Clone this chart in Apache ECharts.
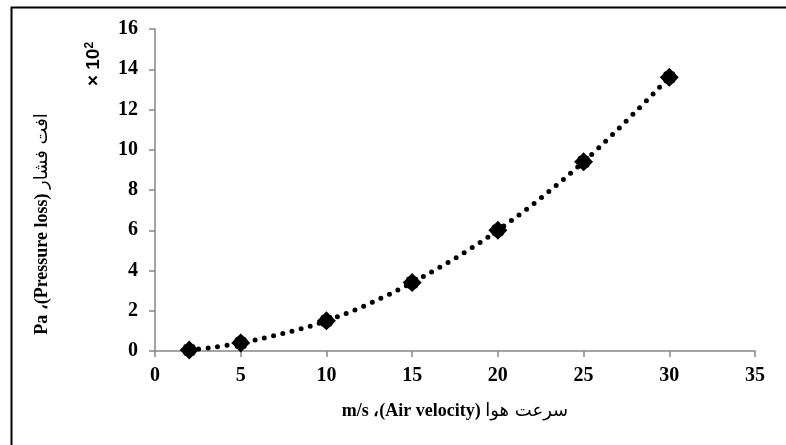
<!DOCTYPE html>
<html>
<head>
    <meta charset="utf-8">
    <title>Pressure loss</title>
    <script src="https://cdn.jsdelivr.net/npm/echarts@6/dist/echarts.min.js"></script>
</head>
<body style="margin:0">
    <div id="chart" style="width: 786px;height: 445px;"></div>
</body>

<script>
    // air velocity (m/s) and pressure loss (x 10^2 Pa)
    var velocity = [2, 5, 10, 15, 20, 25, 30];
    var pressureLoss = [0.05, 0.4, 1.5, 3.4, 6.0, 9.4, 13.6];
    var xTicks = [0, 35, 5];   // min, max, step
    var yTicks = [0, 16, 2];

    var pts = velocity.map(function (v, i) { return [v, pressureLoss[i]]; });
    var serif = '"Liberation Serif", "Times New Roman", serif';

    var titleRich = {
        b: { fontFamily: serif, fontWeight: 'bold', fontSize: 18, color: '#000' },
        a: { fontFamily: '"DejaVu Sans", sans-serif', fontWeight: 'normal', fontSize: 18, color: '#000' }
    };

    var option = {
        animation: false,
        backgroundColor: '#fff',
        grid: { left: 155, top: 29, right: 31, bottom: 94 },
        xAxis: {
            type: 'value',
            min: xTicks[0], max: xTicks[1], interval: xTicks[2],
            axisLine: { lineStyle: { color: '#868686', width: 1.5 } },
            axisTick: { show: true, length: 6, lineStyle: { color: '#868686', width: 1.5 } },
            axisLabel: { color: '#000', fontFamily: serif, fontWeight: 'bold', fontSize: 20, margin: 15 },
            splitLine: { show: false }
        },
        yAxis: {
            type: 'value',
            min: yTicks[0], max: yTicks[1], interval: yTicks[2],
            axisLine: { show: true, lineStyle: { color: '#868686', width: 1.5 } },
            axisTick: { show: true, length: 6, lineStyle: { color: '#868686', width: 1.5 } },
            axisLabel: { color: '#000', fontFamily: serif, fontWeight: 'bold', fontSize: 20, margin: 17 },
            splitLine: { show: false }
        },
        graphic: [
            { type: 'rect', left: 9, top: 5, silent: true,
              shape: { width: 900, height: 500 },
              style: { fill: 'none', stroke: '#000', lineWidth: 2 } },
            { type: 'text', x: 42, y: 224, rotation: Math.PI / 2, silent: true,
              style: { text: '{b|Pa \u060C(Pressure loss) }{a|افت فشار}', rich: titleRich,
                       align: 'center', verticalAlign: 'middle' } },
            { type: 'text', x: 94, y: 64, rotation: Math.PI / 2, silent: true,
              style: { text: '× 10{s|2}', fill: '#000',
                       font: 'bold 19px "Liberation Sans", Arial, sans-serif',
                       rich: { s: { fontSize: 12, fontWeight: 'bold', fontFamily: '"Liberation Sans", Arial, sans-serif', padding: [0, 0, 9, 0] } },
                       align: 'center', verticalAlign: 'middle' } },
            { type: 'text', x: 455, y: 411, silent: true,
              style: { text: '{b|m/s \u060C(Air velocity) }{a|سرعت هوا}', rich: titleRich,
                       align: 'center', verticalAlign: 'middle' } }
        ],
        series: [
            {
                type: 'line',
                data: pts,
                smooth: 0.35,
                symbol: 'none',
                lineStyle: { color: '#000', width: 5, type: [0, 9.5], cap: 'round' },
                z: 2
            },
            {
                type: 'scatter',
                data: pts,
                symbol: 'path://M0,-9 L3,-6 L5,-5 L6,-3 L9,0 L6,3 L5,5 L3,6 L0,9 L-3,6 L-5,5 L-6,3 L-9,0 L-6,-3 L-5,-5 L-3,-6 Z',
                symbolSize: 19,
                itemStyle: { color: '#000', opacity: 1 },
                z: 3
            }
        ]
    };

    var chart = echarts.init(document.getElementById('chart'));
    chart.setOption(option);
</script>
</html>
